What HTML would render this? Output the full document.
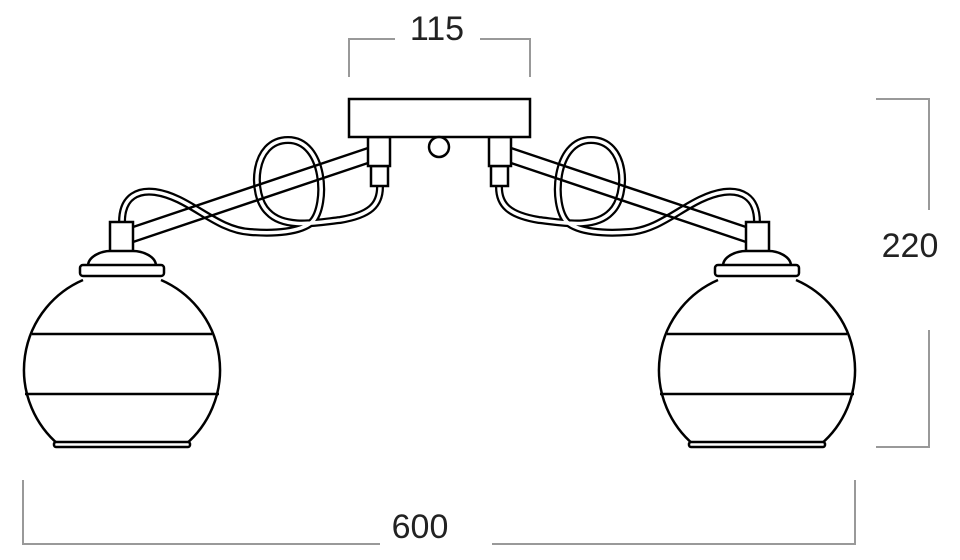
<!DOCTYPE html>
<html><head><meta charset="utf-8"><style>
html,body{margin:0;padding:0;background:#fff}
svg{display:block}
text{font-family:"Liberation Sans",sans-serif;font-size:34px;fill:#222}
</style></head><body>
<svg width="960" height="560" viewBox="0 0 960 560" xmlns="http://www.w3.org/2000/svg">
<g stroke="#999" stroke-width="2" fill="none">
<path d="M349,77V39H395M480,39H530V77"/>
<path d="M876,99H929V210M929,330V447H876"/>
<path d="M23,480V544H380M492,544H855V480"/>
</g>
<text x="437" y="40" text-anchor="middle">115</text>
<text x="910" y="257" text-anchor="middle">220</text>
<text x="420" y="538" text-anchor="middle">600</text>

<defs>
<g id="half">
<path d="M122,222 C122,195 140,190 155,192 C190,197 215,230 250,232 C275,234 300,232 312,222 C328,205 325,140 288,140 C252,140 250,195 268,212 C285,230 320,222 340,220 C370,215 380,205 380,187" stroke="#000" stroke-width="8" fill="none"/>
<path d="M122,222 C122,195 140,190 155,192 C190,197 215,230 250,232 C275,234 300,232 312,222 C328,205 325,140 288,140 C252,140 250,195 268,212 C285,230 320,222 340,220 C370,215 380,205 380,187" stroke="#fff" stroke-width="3.5" fill="none"/>
<g stroke="#000" stroke-width="2.5" fill="#fff">
<line x1="133" y1="227" x2="368" y2="148"/>
<line x1="133" y1="242" x2="368" y2="163"/>
<rect x="371" y="166" width="17" height="20"/>
<rect x="368" y="137" width="22" height="29"/>
<rect x="110" y="222" width="23" height="30"/>
<path d="M88,266 C88,256 102,251 110,251 H133 C142,251 156,256 156,266 Z"/>
<rect x="80" y="265" width="84" height="11" rx="3"/>
<path d="M83,280 A98,98 0 0,0 59,445 L185,445 A98,98 0 0,0 161,280"/>
<line x1="32" y1="334" x2="212" y2="334"/>
<line x1="25" y1="394" x2="219" y2="394"/>
<rect x="54" y="442" width="136" height="5" rx="2"/>
</g>
</g>
</defs>
<use href="#half"/>
<use href="#half" transform="translate(879,0) scale(-1,1)"/>
<g stroke="#000" stroke-width="2.5" fill="#fff">
<rect x="349" y="99" width="181" height="38"/>
<circle cx="439" cy="147" r="10"/>
</g>
</svg>
</body></html>
